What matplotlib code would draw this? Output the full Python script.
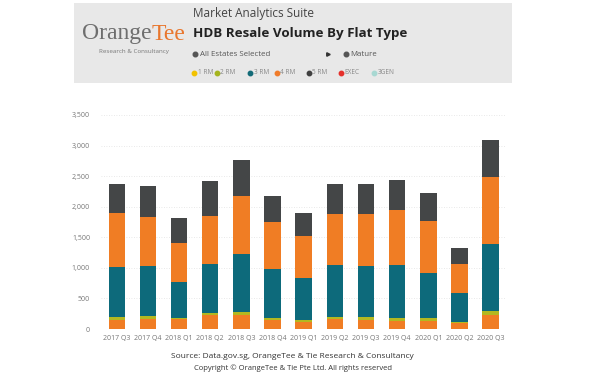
#!/usr/bin/env python3
"""HDB resale volume by flat type, stacked by quarter."""

import matplotlib

matplotlib.use("Agg")
import matplotlib.pyplot as plt
from matplotlib.patches import Rectangle

plt.rcParams["font.family"] = ["Open Sans", "DejaVu Sans"]

quarters = ["2017 Q3", "2017 Q4", "2018 Q1", "2018 Q2", "2018 Q3", "2018 Q4", "2019 Q1",
            "2019 Q2", "2019 Q3", "2019 Q4", "2020 Q1", "2020 Q2", "2020 Q3"]

# stacked segments, bottom to top
seg_base = [153, 169, 164, 229, 224, 142, 114, 164, 147, 131, 136, 98, 229]
seg_thin = [38, 44, 21, 38, 49, 38, 39, 38, 44, 43, 38, 16, 71]
seg_3rm = [828, 817, 584, 796, 954, 807, 681, 850, 839, 878, 747, 469, 1090]
seg_4rm = [873, 796, 643, 791, 948, 763, 682, 834, 856, 889, 840, 486, 1096]
seg_5rm = [480, 513, 398, 561, 584, 431, 387, 491, 491, 491, 469, 256, 600]

seg_colors = ["#f07d24", "#b3b820", "#0d6a7b", "#f07d24", "#444647"]

legend_labels = ["1 RM", "2 RM", "3 RM", "4 RM", "5 RM", "EXEC", "3GEN"]
legend_colors = ["#f2c200", "#a5b41f", "#136b78", "#f07c2a", "#404040", "#e5312b", "#a8d8d2"]

yticks = [0, 500, 1000, 1500, 2000, 2500, 3000, 3500]


def main() -> None:
    W, H = 600, 376
    fig = plt.figure(figsize=(W / 100, H / 100), dpi=100)

    # --- header band (pixel coordinates) ---
    hd = fig.add_axes([0, 0, 1, 1])
    hd.set_xlim(0, W)
    hd.set_ylim(H, 0)
    hd.axis("off")
    hd.add_patch(Rectangle((74, 3), 438, 80, facecolor="#e8e8e8", edgecolor="none"))

    # logo: two-tone serif word
    t1 = hd.text(82, 34, "Orange", fontsize=17, family="Liberation Serif", color="#6e6e6e",
                 va="center", ha="left")
    fig.canvas.draw()
    x_end = t1.get_window_extent().x1  # display px == data px horizontally
    hd.text(x_end, 34, "Tee", fontsize=17, family="Liberation Serif", color="#e8772e",
            va="center", ha="left")
    hd.text(134, 52, "Research & Consultancy", fontsize=4.5, color="#777777",
            va="center", ha="center")

    hd.text(193, 14, "Market Analytics Suite", fontsize=8.5, color="#444444", va="center")
    hd.text(193, 33, "HDB Resale Volume By Flat Type", fontsize=9.6, fontweight="bold",
            color="#222222", va="center")

    hd.plot([195], [54], "o", ms=3.3, color="#555555")
    hd.text(200, 54, "All Estates Selected", fontsize=5.7, color="#555555", va="center")
    hd.plot([328], [54], ">", ms=2.5, color="#333333")
    hd.plot([346], [54], "o", ms=3.3, color="#555555")
    hd.text(350, 54, "Mature", fontsize=5.7, color="#555555", va="center")

    lx = [194, 217, 250, 277, 309, 341, 374]
    for x, lab, col in zip(lx, legend_labels, legend_colors):
        hd.plot([x], [73], "o", ms=3.2, color=col)
        hd.text(x + 3.5, 73, lab, fontsize=4.7, color="#888888", va="center")

    hd.text(292, 356, "Source: Data.gov.sg, OrangeTee & Tie Research & Consultancy",
            fontsize=6, color="#333333", ha="center", va="center")
    hd.text(293, 368, "Copyright \u00a9 OrangeTee & Tie Pte Ltd. All rights reserved",
            fontsize=5.5, color="#333333", ha="center", va="center")

    # --- chart ---
    ax = fig.add_axes([101.2 / W, 1 - 329 / H, 405 / W, 214 / H])
    xs = list(range(len(quarters)))
    bottom = [0] * len(quarters)
    for seg, col in zip([seg_base, seg_thin, seg_3rm, seg_4rm, seg_5rm], seg_colors):
        ax.bar(xs, seg, bottom=bottom, width=0.53, color=col, zorder=2)
        bottom = [b + v for b, v in zip(bottom, seg)]

    ax.set_xlim(-0.5, len(quarters) - 0.5)
    ax.set_ylim(0, 3500)
    ax.set_yticks(yticks)
    ax.set_yticklabels([f"{t:,}" for t in yticks])
    ax.set_xticks(xs)
    ax.set_xticklabels(quarters)
    ax.tick_params(length=0, labelsize=5, colors="#777777")
    ax.tick_params(axis="y", pad=8)
    ax.tick_params(axis="x", pad=4)
    ax.grid(axis="y", color="#e2e2e2", linestyle=(0, (1, 2)), linewidth=0.6, zorder=0)
    for s in ax.spines.values():
        s.set_visible(False)

    fig.savefig("out.png", dpi=100)
    plt.close(fig)


if __name__ == "__main__":
    main()
